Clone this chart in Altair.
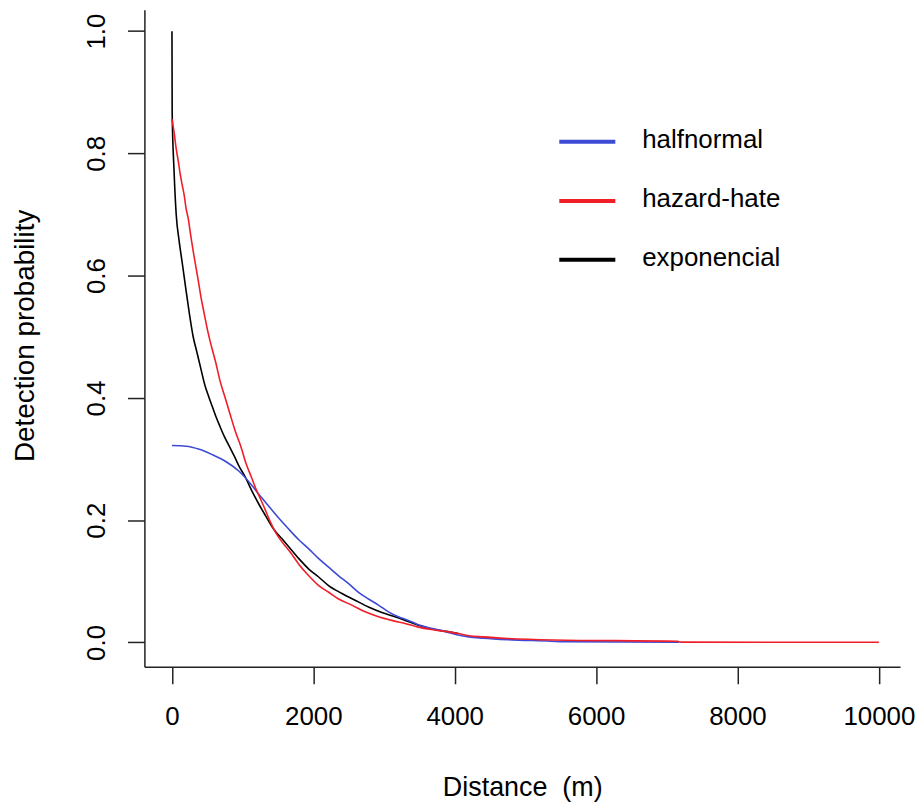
import altair as alt
import pandas as pd

# ---- data ----
# halfnormal (blue)
hn_x = [0, 200, 386, 573, 761, 949, 1137, 1231, 1325, 1513, 1654, 1794, 1935, 2076,
        2217, 2358, 2499, 2639, 2780, 2921, 3062, 3203, 3344, 3485, 3672, 3860, 4048,
        4200, 4400, 4750, 5360, 5550, 7175]
hn_y = [0.322, 0.321, 0.316, 0.307, 0.296, 0.280, 0.256, 0.242, 0.229, 0.203, 0.185,
        0.168, 0.153, 0.137, 0.123, 0.109, 0.096, 0.082, 0.071, 0.061, 0.050, 0.042,
        0.036, 0.029, 0.023, 0.018, 0.012, 0.009, 0.007, 0.0045, 0.002, 0.001, 0.0005]

# hazard-rate (red)
hr_x = [0, 34, 58, 90, 114, 142, 175, 198, 231, 255, 277, 306, 339, 372, 410, 456, 503,
        559, 621, 677, 748, 818, 889, 973, 1044, 1128, 1184, 1231, 1301, 1372, 1466,
        1559, 1677, 1794, 1935, 2076, 2217, 2358, 2545, 2733, 2921, 3109, 3297, 3485,
        3672, 3860, 4048, 4200, 4400, 4750, 5400, 7150, 7200, 10000]
hr_y = [0.856, 0.831, 0.809, 0.787, 0.768, 0.750, 0.730, 0.711, 0.693, 0.674, 0.657,
        0.636, 0.614, 0.592, 0.565, 0.538, 0.511, 0.484, 0.457, 0.429, 0.402, 0.375,
        0.348, 0.321, 0.294, 0.269, 0.252, 0.240, 0.222, 0.202, 0.180, 0.164, 0.147,
        0.128, 0.109, 0.093, 0.082, 0.071, 0.061, 0.050, 0.042, 0.036, 0.031, 0.025,
        0.021, 0.018, 0.0145, 0.011, 0.009, 0.0065, 0.004, 0.0018, 0.0004, 0.0003]

# exponential (black)
ex_x = [0, 3, 30, 60, 100, 150, 200, 250, 300, 350, 400, 470, 520, 570, 620, 680, 740,
        810, 880, 950, 1030, 1130, 1230, 1325, 1440, 1560, 1655, 1795, 1935, 2075, 2215,
        2405, 2590, 2780, 2970, 3155, 3300, 3485, 3810, 3935, 4048]
ex_y = [1.0, 0.866, 0.77, 0.70, 0.658, 0.617, 0.575, 0.535, 0.50, 0.476, 0.452, 0.419,
        0.402, 0.386, 0.370, 0.353, 0.337, 0.321, 0.305, 0.288, 0.272, 0.248, 0.226,
        0.207, 0.185, 0.169, 0.156, 0.137, 0.120, 0.107, 0.093, 0.080, 0.069, 0.058,
        0.049, 0.042, 0.036, 0.028, 0.019, 0.017, 0.0145]

legend_labels = ["halfnormal", "hazard-hate", "exponencial"]
x_ticks = [0, 2000, 4000, 6000, 8000, 10000]
y_ticks = [0.0, 0.2, 0.4, 0.6, 0.8, 1.0]

BLUE = "#3d4ad6"
RED = "#f01e28"
BLACK = "#000000"
FONT = "Liberation Sans"
FS = 26
AX = "#222222"

W, H = 759, 660

xaxis = alt.Axis(values=x_ticks, format="d", title="Distance \u00a0(m)", grid=False,
                 tickSize=17, tickWidth=1.5, tickColor=AX, domainColor=AX, domainWidth=1.5,
                 labelPadding=33, labelFontSize=FS, labelFont=FONT, labelColor="#000",
                 labelBaseline="middle", labelAlign="center", labelFlush=False,
                 labelOverlap=False,
                 titleFontSize=27, titleFont=FONT, titleFontWeight="normal", titleColor="#000",
                 titleX=W / 2, titleY=129, titleBaseline="alphabetic", titleAlign="center",
                 titleAnchor="middle")
yaxis = alt.Axis(values=y_ticks, format=".1f", title="Detection probability", grid=False,
                 tickSize=17, tickWidth=1.5, tickColor=AX, domainColor=AX, domainWidth=1.5,
                 labelPadding=31, labelFontSize=FS, labelFont=FONT, labelColor="#000",
                 labelAngle=270, labelBaseline="middle", labelAlign="center",
                 labelFlush=False, labelOverlap=False,
                 titleFontSize=28, titleFont=FONT, titleFontWeight="normal", titleColor="#000",
                 titleAngle=270, titleX=-111, titleY=327, titleBaseline="alphabetic",
                 titleAlign="center")

xs = alt.Scale(domain=[-390, 10300], nice=False, zero=False)
ys = alt.Scale(domain=[-0.04, 1.035], nice=False, zero=False)


def curve(xv, yv, color):
    df = pd.DataFrame({"d": xv, "p": yv})
    return alt.Chart(df).mark_line(color=color, strokeWidth=1.6, interpolate="monotone").encode(
        x=alt.X("d:Q", scale=xs, axis=xaxis),
        y=alt.Y("p:Q", scale=ys, axis=yaxis),
    )


layers = [curve(ex_x, ex_y, BLACK), curve(hn_x, hn_y, BLUE), curve(hr_x, hr_y, RED)]

leg_colors = [BLUE, RED, BLACK]
leg_y = [132.7, 192, 251]
for lab, col, yy in zip(legend_labels, leg_colors, leg_y):
    layers.append(
        alt.Chart(pd.DataFrame({"l": [lab]})).mark_rule(color=col, strokeWidth=4).encode(
            x=alt.value(416.7), x2=alt.value(473), y=alt.value(yy)
        )
    )
    layers.append(
        alt.Chart(pd.DataFrame({"l": [lab]})).mark_text(
            align="left", baseline="alphabetic", fontSize=FS, font=FONT, color="#000"
        ).encode(x=alt.value(500), y=alt.value(yy + 6), text="l:N")
    )

chart = alt.layer(*layers).properties(
    width=W, height=H, autosize="none",
    padding={"left": 137, "top": 0, "right": 16, "bottom": 135},
    background="white",
).configure_view(stroke=None)

chart.save("out.html", embed_options={"renderer": "svg", "actions": False})
